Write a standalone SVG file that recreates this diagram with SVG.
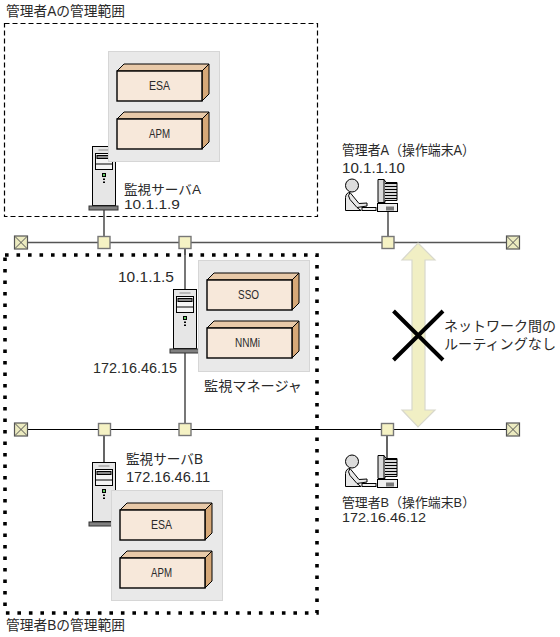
<svg xmlns="http://www.w3.org/2000/svg" xmlns:xlink="http://www.w3.org/1999/xlink" width="560" height="637" viewBox="0 0 560 637">
<style>
text{font-family:"Liberation Sans","Noto Sans CJK JP",sans-serif;font-size:14px;fill:#2a2a2a}
.tight{font-size:13px}
.bx{font-size:13px}
.panel{fill:#e9e9e9;stroke:#d6d6d6;stroke-width:1}
.front{fill:#f7e8da;stroke:#000;stroke-width:1.4}
.top{fill:#e8c9a8;stroke:#000;stroke-width:1}
.side{fill:#d6a878;stroke:#000;stroke-width:1}
.bus{stroke:#000;stroke-width:1.2;fill:none}
.bus2{stroke:#555;stroke-width:1.6;fill:none}
.sq{fill:#f5f2c4;stroke:#777;stroke-width:1.4}
.tm{fill:#ecebc0;stroke:#555;stroke-width:1.2}
</style>
<defs>
<g id="term"><rect class="tm" x="-6.5" y="-6.5" width="13" height="13"/><path d="M-6-6L6 6M6-6L-6 6" stroke="#555" stroke-width="1"/></g>
<g id="box"><path class="top" d="M0 0L7-7H92L85 0Z"/><path class="side" d="M85 0L92-7V23L85 30Z"/><rect class="front" width="85" height="30"/></g>
<g id="server">
<rect x="0" y="0" width="23" height="59" fill="#e6e6e6" stroke="#000" stroke-width="1"/>
<path d="M6 3.500H17" stroke="#888" stroke-width="1"/>
<rect x="3" y="7" width="17" height="16" fill="#f4f4f4" stroke="#000" stroke-width="1"/>
<rect x="4.500" y="9" width="14" height="3" fill="#888" stroke="#000" stroke-width="1"/>
<path d="M3 17.500H20" stroke="#000" stroke-width="1"/>
<rect x="10" y="27" width="3" height="3" fill="#6c6" stroke="#000" stroke-width="1"/>
<path d="M11.500 32V33.500M11.500 35V36.500" stroke="#000" stroke-width="2"/>
<rect x="-3.500" y="59.500" width="29" height="4" fill="#808080" stroke="#333" stroke-width="1"/>
</g>
<g id="op">
<circle cx="7" cy="8" r="6.500" fill="#dcdcdc" stroke="#000" stroke-width="1"/>
<path d="M0.500 33V20Q1 15 5 15L14 26L22 25.500V28.500L12 30L16 33Z" fill="#e8e8e8" stroke="#000" stroke-width="1"/>
<path d="M5 15Q2 18 5 22L12 30" fill="none" stroke="#000" stroke-width="1"/>
<rect x="17" y="30" width="14" height="3" fill="#f0f0f0" stroke="#000" stroke-width="1"/>
<path d="M33 2H39L41 5H52V23H40V25H33Z" fill="#d8d8d8" stroke="#000" stroke-width="1"/>
<path d="M40 6H52M40 9H52M40 12H52M40 15H52M40 18H52M40 21H52" stroke="#000" stroke-width="1"/>
<path d="M39 2V25" stroke="#000" stroke-width="1"/>
<rect x="32.500" y="26" width="20" height="8" fill="#eee" stroke="#000" stroke-width="1"/>
<path d="M42 29V33M44 29V33M46 29V33M48 29V33" stroke="#000" stroke-width="1"/>
</g>
</defs>

<g id="region-a">
<rect x="4.500" y="23.500" width="313" height="193" fill="none" stroke="#000" stroke-width="1.200" stroke-dasharray="5 3"/>
<text x="6" y="16" textLength="119" lengthAdjust="spacingAndGlyphs">管理者Aの管理範囲</text>
</g>
<g id="region-b">
<rect x="5" y="255" width="312" height="358" fill="none" stroke="#000" stroke-width="3.600" stroke-dasharray="3.600 7.900"/>
<text x="6" y="630" textLength="119" lengthAdjust="spacingAndGlyphs">管理者Bの管理範囲</text>
</g>

<g id="connectors">
<path class="bus2" d="M20 242.500H513M104 209V236M185 242V255M388 211V236"/>
<path class="bus" d="M21 429.500H514M104 429V463M387 429V458"/>
<path class="bus2" d="M185 242V429"/>
</g>

<g id="no-route">
<path d="M418 243L435 260H425V410H435L418 427L402 410H412V260H402Z" fill="#f1efc4" stroke="#d8d8cc" stroke-width="1.200"/>
<path d="M393.500 311L443 360M443 311L393.500 360" stroke="#000" stroke-width="4" fill="none"/>
<text x="444" y="331" textLength="112" lengthAdjust="spacingAndGlyphs">ネットワーク間の</text>
<text x="444" y="349" textLength="112" lengthAdjust="spacingAndGlyphs">ルーティングなし</text>
</g>

<g id="bus1-nodes">
<use xlink:href="#term" href="#term" x="21" y="242.500"/>
<use xlink:href="#term" href="#term" x="513" y="242.500"/>
<rect class="sq" x="98" y="236.500" width="12" height="12"/>
<rect class="sq" x="179" y="236.500" width="12" height="12"/>
<rect class="sq" x="382" y="236.500" width="12" height="12"/>
</g>
<g id="bus2-nodes">
<use xlink:href="#term" href="#term" x="21" y="429.500"/>
<use xlink:href="#term" href="#term" x="513" y="429.500"/>
<rect class="sq" x="98.500" y="423.500" width="12" height="12"/>
<rect class="sq" x="179" y="423.500" width="12" height="12"/>
<rect class="sq" x="381.500" y="423.500" width="12" height="12"/>
</g>

<g id="server-a">
<use xlink:href="#server" href="#server" x="92.500" y="146.500"/>
<rect class="panel" x="108.500" y="51.500" width="111" height="110"/>
<use xlink:href="#box" href="#box" x="117" y="71"/>
<text class="bx" x="149" y="90" textLength="21" lengthAdjust="spacingAndGlyphs">ESA</text>
<use xlink:href="#box" href="#box" x="117" y="119"/>
<text class="bx" x="149" y="138" textLength="21" lengthAdjust="spacingAndGlyphs">APM</text>
<text class="tight" x="124" y="193.500" textLength="77" lengthAdjust="spacingAndGlyphs">監視サーバA</text>
<text class="tight" x="124" y="209" textLength="56" lengthAdjust="spacingAndGlyphs">10.1.1.9</text>
</g>

<g id="manager">
<use xlink:href="#server" href="#server" x="173.500" y="289.500"/>
<rect class="panel" x="198.500" y="260.500" width="111" height="111"/>
<use xlink:href="#box" href="#box" x="207" y="280"/>
<text class="bx" x="238" y="299" textLength="21" lengthAdjust="spacingAndGlyphs">SSO</text>
<use xlink:href="#box" href="#box" x="207" y="328"/>
<text class="bx" x="235" y="347" textLength="25" lengthAdjust="spacingAndGlyphs">NNMi</text>
<text x="118" y="282" textLength="56" lengthAdjust="spacingAndGlyphs">10.1.1.5</text>
<text x="93" y="373" textLength="84" lengthAdjust="spacingAndGlyphs">172.16.46.15</text>
<text x="204" y="391" textLength="98" lengthAdjust="spacingAndGlyphs">監視マネージャ</text>
</g>

<g id="server-b">
<use xlink:href="#server" href="#server" x="92.500" y="462.500"/>
<rect class="panel" x="111.500" y="490.500" width="111" height="110"/>
<use xlink:href="#box" href="#box" x="120" y="510"/>
<text class="bx" x="151" y="529" textLength="21" lengthAdjust="spacingAndGlyphs">ESA</text>
<use xlink:href="#box" href="#box" x="120" y="558"/>
<text class="bx" x="151" y="577" textLength="21" lengthAdjust="spacingAndGlyphs">APM</text>
<text x="126" y="464" textLength="77" lengthAdjust="spacingAndGlyphs">監視サーバB</text>
<text x="126" y="482" textLength="84" lengthAdjust="spacingAndGlyphs">172.16.46.11</text>
</g>

<g id="operator-a">
<use xlink:href="#op" href="#op" x="345" y="177.500"/>
<text x="342" y="155" textLength="133" lengthAdjust="spacingAndGlyphs">管理者A（操作端末A）</text>
<text x="342" y="173" textLength="63" lengthAdjust="spacingAndGlyphs">10.1.1.10</text>
</g>
<g id="operator-b">
<use xlink:href="#op" href="#op" x="345" y="453.500"/>
<text class="tight" x="342" y="506.500" textLength="133" lengthAdjust="spacingAndGlyphs">管理者B（操作端末B）</text>
<text class="tight" x="342" y="522" textLength="84" lengthAdjust="spacingAndGlyphs">172.16.46.12</text>
</g>
</svg>
